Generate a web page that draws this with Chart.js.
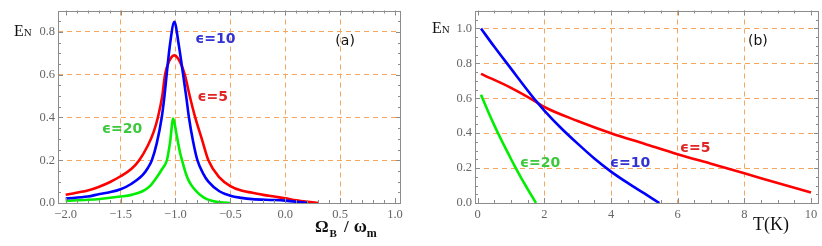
<!DOCTYPE html>
<html><head><meta charset="utf-8">
<script src="https://cdn.jsdelivr.net/npm/chart.js@4"></script>
<style>
html,body{margin:0;padding:0;background:#fff;width:822px;height:246px;overflow:hidden}
#wa{position:absolute;left:0;top:0;width:410px;height:246px}
#wb{position:absolute;left:410px;top:0;width:412px;height:246px}
</style></head><body>
<div id="wa"><canvas id="ca" width="410" height="246"></canvas></div>
<div id="wb"><canvas id="cb" width="412" height="246"></canvas></div>
<script>
// ---------- Panel (a): EN vs Omega_B / omega_m ----------
const omegaEps5 = [-2.0,-1.8,-1.7,-1.6,-1.5,-1.4,-1.33,-1.25,-1.2,-1.16,-1.12,-1.095,-1.06,-1.01,-0.97,-0.915,-0.87,-0.82,-0.76,-0.7,-0.6,-0.5,-0.4,-0.3,-0.2,-0.1,0.0,0.1,0.2,0.3];
const enEps5    = [0.039,0.058,0.075,0.097,0.125,0.16,0.2,0.27,0.33,0.4,0.5,0.6,0.66,0.69,0.67,0.6,0.5,0.4,0.3,0.2,0.12,0.079,0.058,0.048,0.038,0.03,0.022,0.013,0.006,0.0];
const omegaEps10 = [-2.0,-1.8,-1.69,-1.6,-1.5,-1.4,-1.3,-1.25,-1.215,-1.17,-1.125,-1.1,-1.08,-1.05,-1.01,-0.97,-0.93,-0.9,-0.877,-0.84,-0.8,-0.75,-0.7,-0.6,-0.5,-0.4,-0.3,-0.1,0.0,0.1,0.2];
const enEps10    = [0.021,0.03,0.042,0.05,0.064,0.09,0.13,0.165,0.2,0.28,0.4,0.5,0.6,0.74,0.847,0.74,0.6,0.49,0.4,0.29,0.2,0.14,0.1,0.055,0.034,0.024,0.018,0.014,0.011,0.006,0.0];
const omegaEps20 = [-2.0,-1.8,-1.69,-1.5,-1.4,-1.3,-1.23,-1.17,-1.12,-1.078,-1.05,-1.02,-0.99,-0.96,-0.94,-0.9,-0.86,-0.8,-0.74,-0.67,-0.59,-0.5];
const enEps20    = [0.01,0.015,0.019,0.03,0.038,0.055,0.08,0.12,0.16,0.2,0.28,0.395,0.32,0.24,0.2,0.13,0.087,0.05,0.025,0.01,0.003,0.0];
const ticksAX = [-2.0,-1.5,-1.0,-0.5,0.0,0.5,1.0];
const ticksAY = [0.0,0.2,0.4,0.6,0.8];
const gridAX = [-1.5,-1.0,-0.5,0.0,0.5];
const gridAY = [0.2,0.4,0.6,0.8];

// ---------- Panel (b): EN vs T(K) ----------
const tempEps5 = [0.1,1,1.75,2,3,4,5,6,7,8,9,10];
const enTEps5  = [0.74,0.66,0.58,0.55,0.47,0.40,0.34,0.28,0.225,0.17,0.115,0.06];
const tempEps10 = [0.1,0.5,1,1.5,1.75,2,2.5,3,3.5,4,4.5,5,5.45];
const enTEps10  = [1.0,0.895,0.77,0.645,0.585,0.53,0.43,0.34,0.255,0.18,0.115,0.055,0.0];
const tempEps20 = [0.1,0.3,0.5,0.7,0.9,1.1,1.3,1.5,1.75];
const enTEps20  = [0.62,0.53,0.445,0.365,0.29,0.215,0.145,0.08,0.0];
const ticksBX = [0,2,4,6,8,10];
const ticksBY = [0.0,0.2,0.4,0.6,0.8,1.0];
const gridBX = [2,4,6,8];
const gridBY = [0.2,0.4,0.6,0.8,1.0];

const BLUE='#0000ff', RED='#ff0000', GREEN='#00ee00';
const pts = (xs, ys) => xs.map((x,i)=>({x:x,y:ys[i]}));
const near = (arr,v) => arr.some(a=>Math.abs(a-v)<1e-6);

const framePlugin = {
  id:'frame',
  afterDatasetsDraw(chart, args, o) {
    const ctx = chart.ctx, a = chart.chartArea, xs = chart.scales.x, ys = chart.scales.y;
    ctx.save();
    ctx.strokeStyle = '#8c8c8c'; ctx.lineWidth = 1;
    const seg = (x1,y1,x2,y2)=>{ctx.beginPath();ctx.moveTo(x1,y1);ctx.lineTo(x2,y2);ctx.stroke();};
    const nx = Math.round((o.xMinorEnd-o.xMinorStart)/o.xMinor);
    for (let i=0;i<=nx;i++){
      const v = o.xMinorStart + i*o.xMinor;
      const len = near(o.xMajor, Math.round(v*1000)/1000) ? 5 : 3;
      const p = Math.round(xs.getPixelForValue(v))+0.5;
      seg(p,a.bottom,p,a.bottom-len); seg(p,a.top,p,a.top+len);
    }
    const ny = Math.round((o.yMinorEnd-o.yMinorStart)/o.yMinor);
    for (let i=0;i<=ny;i++){
      const v = o.yMinorStart + i*o.yMinor;
      const len = near(o.yMajor, Math.round(v*1000)/1000) ? 5 : 3;
      const p = Math.round(ys.getPixelForValue(v))+0.5;
      seg(a.left,p,a.left+len,p); seg(a.right,p,a.right-len,p);
    }
    ctx.strokeRect(Math.round(a.left)+0.5, Math.round(a.top)+0.5, Math.round(a.right-a.left)-1, Math.round(a.bottom-a.top)-1);
    // annotations
    ctx.textBaseline='alphabetic'; ctx.textAlign='left';
    (o.notes||[]).forEach(n=>{
      ctx.font = n.font; ctx.fillStyle = n.color;
      ctx.fillText(n.text, xs.getPixelForValue(n.x), ys.getPixelForValue(n.y));
    });
    // y axis title E_N
    ctx.fillStyle='#111';
    ctx.font='16px "Liberation Serif"';
    ctx.fillText('E', o.enX, o.enY);
    const w = ctx.measureText('E').width;
    ctx.font='11px "Liberation Serif"';
    ctx.fillText('N', o.enX+w, o.enY);
    // x axis title
    let x = o.xtX;
    o.xtParts.forEach(p=>{
      ctx.font = p.font; ctx.fillText(p.t, x, o.xtY + (p.dy||0));
      x += ctx.measureText(p.t).width + (p.gap||0);
    });
    ctx.restore();
  }
};

function makeChart(id, cfg) {
  const gridFn = (list)=> (c)=> (c.tick && near(list, c.tick.value)) ? '#f5a55c' : 'rgba(0,0,0,0)';
  return new Chart(document.getElementById(id), {
    type:'line',
    data:{datasets:cfg.datasets.map(d=>({data:d.data,borderColor:d.color,borderWidth:2.6,pointRadius:0,fill:false,cubicInterpolationMode:'monotone'}))},
    options:{
      responsive:false, animation:false, devicePixelRatio:1, events:[],
      layout:{padding:cfg.padding},
      plugins:{legend:{display:false},tooltip:{enabled:false},frame:cfg.frame},
      scales:{
        x:{type:'linear',min:cfg.xmin,max:cfg.xmax,
           afterBuildTicks:s=>{s.ticks=cfg.xTicks.map(v=>({value:v}));},
           afterFit:s=>{s.height=cfg.xh;},
           border:{display:false,dash:[5,4]},
           grid:{drawTicks:false,color:gridFn(cfg.xGrid),lineWidth:1},
           ticks:{padding:4,color:'#666',font:{family:'Liberation Serif',size:12.5},maxRotation:0,autoSkip:false,
                  callback:v=>cfg.xFmt(v)}},
        y:{type:'linear',min:cfg.ymin,max:cfg.ymax,
           afterBuildTicks:s=>{s.ticks=cfg.yTicks.map(v=>({value:v}));},
           afterFit:s=>{s.width=cfg.yw;},
           border:{display:false,dash:[5,4]},
           grid:{drawTicks:false,color:gridFn(cfg.yGrid),lineWidth:1},
           ticks:{padding:3,color:'#666',font:{family:'Liberation Serif',size:12.5},autoSkip:false,
                  callback:v=>v.toFixed(1)}}
      }
    },
    plugins:[framePlugin]
  });
}

const fmtA = v => (v<0?'\u2212':'') + Math.abs(v).toFixed(1);
const noteFont = 'bold 14px "DejaVu Sans"';

makeChart('ca', {
  datasets:[{data:pts(omegaEps10,enEps10),color:BLUE},{data:pts(omegaEps5,enEps5),color:RED},{data:pts(omegaEps20,enEps20),color:GREEN}],
  padding:{left:0,top:4,right:9,bottom:0},
  xmin:-2.07,xmax:1.055,ymin:0,ymax:0.9,xh:43,yw:58,
  xTicks:ticksAX,yTicks:ticksAY,xGrid:gridAX,yGrid:gridAY,xFmt:fmtA,
  frame:{xMajor:ticksAX,yMajor:ticksAY,xMinor:0.1,xMinorStart:-2.0,xMinorEnd:1.0,yMinor:0.05,yMinorStart:0,yMinorEnd:0.9,
    enX:14,enY:36,
    xtX:315,xtY:232,
    xtParts:[{t:'\u03A9',font:'bold 17px "Liberation Serif"',gap:1},{t:'B',font:'bold 11px "Liberation Serif"',dy:5,gap:7},{t:'/',font:'bold 17px "Liberation Serif"',gap:5},{t:'\u03C9',font:'bold 18px "Liberation Serif"'},{t:'m',font:'bold 12px "Liberation Serif"',dy:5}],
    notes:[
      {text:'\u03F5=10',x:-0.82,y:0.75,color:'#3232d2',font:noteFont},
      {text:'\u03F5=5',x:-0.80,y:0.475,color:'#e02424',font:noteFont},
      {text:'\u03F5=20',x:-1.67,y:0.326,color:'#3cc83c',font:noteFont},
      {text:'(a)',x:0.457,y:0.74,color:'#111',font:'14px "DejaVu Sans"'}
    ]}
});

makeChart('cb', {
  datasets:[{data:pts(tempEps10,enTEps10),color:BLUE},{data:pts(tempEps5,enTEps5),color:RED},{data:pts(tempEps20,enTEps20),color:GREEN}],
  padding:{left:0,top:4,right:3,bottom:0},
  xmin:-0.08,xmax:10.24,ymin:0,ymax:1.103,xh:43,yw:65,
  xTicks:ticksBX,yTicks:ticksBY,xGrid:gridBX,yGrid:gridBY,xFmt:v=>String(v),
  frame:{xMajor:ticksBX,yMajor:ticksBY,xMinor:0.5,xMinorStart:0,xMinorEnd:10,yMinor:0.05,yMinorStart:0,yMinorEnd:1.1,
    enX:22,enY:33,
    xtX:343,xtY:230,
    xtParts:[{t:'T(K)',font:'18px "Liberation Serif"'}],
    notes:[
      {text:'\u03F5=5',x:6.07,y:0.29,color:'#e02424',font:noteFont},
      {text:'\u03F5=10',x:3.97,y:0.206,color:'#3232d2',font:noteFont},
      {text:'\u03F5=20',x:1.27,y:0.206,color:'#3cc83c',font:noteFont},
      {text:'(b)',x:8.11,y:0.904,color:'#111',font:'14px "DejaVu Sans"'}
    ]}
});
</script>
</body></html>
